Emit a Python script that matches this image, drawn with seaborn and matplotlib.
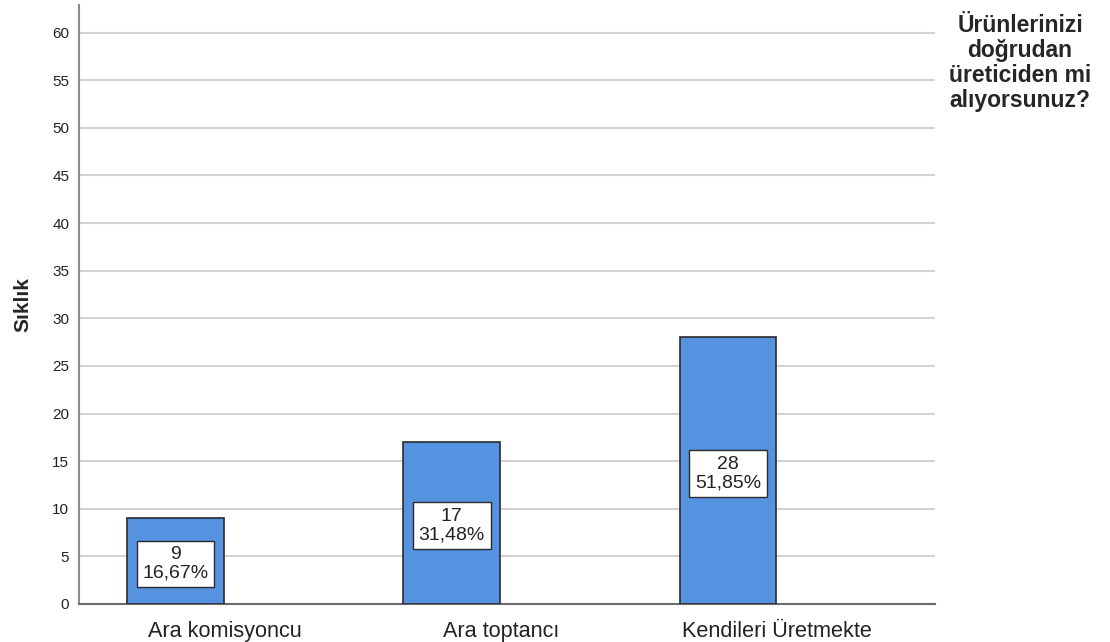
import pandas as pd
import seaborn as sns
import matplotlib.pyplot as plt
from matplotlib.transforms import ScaledTranslation

# data
categories = ['Ara komisyoncu', 'Ara toptancı', 'Kendileri Üretmekte']
counts = [9, 17, 28]
percents = ['16,67%', '31,48%', '51,85%']
yticks = list(range(0, 61, 5))

df = pd.DataFrame({'cat': categories, 'n': counts})

sns.set_style('white')
plt.rcParams['font.family'] = ['Liberation Sans', 'DejaVu Sans']

fig = plt.figure(figsize=(11.1, 6.42), dpi=100)
ax = fig.add_axes([0.0712, 0.0592, 0.7712, 0.933])

sns.barplot(data=df, x='cat', y='n', color='#5592DF', saturation=1,
            edgecolor='#2b2b2b', linewidth=1.2, width=0.35, ax=ax, zorder=3)

for i, (n, p) in enumerate(zip(counts, percents)):
    ax.text(i, n / 2 - 0.3, f'{n}\n{p}', ha='center', va='center', fontsize=14,
            linespacing=1.1, zorder=5, color='#222222',
            bbox=dict(boxstyle='square,pad=0.3', fc='white', ec='#2b2b2b', lw=1))

ax.set_xlim(-0.349, 2.749)
ax.set_ylim(0, 62.9)
ax.set_yticks(yticks)
ax.yaxis.grid(True, color='#d2d2d2', lw=1.5, zorder=0)
ax.tick_params(axis='y', length=0, labelsize=11, pad=7, colors='#222222')
ax.tick_params(axis='x', length=0, labelsize=15.6, pad=12, colors='#222222')
# SPSS puts the category labels a bit right of the bar centres
shift = ScaledTranslation(0.49, 0, fig.dpi_scale_trans)
for lab in ax.get_xticklabels():
    lab.set_transform(lab.get_transform() + shift)
ax.set_xlabel('')
ax.set_ylabel('Sıklık', fontsize=15, fontweight='bold', labelpad=14)

for s in ['top', 'right']:
    ax.spines[s].set_visible(False)
ax.spines['left'].set_color('#8a8a8a')
ax.spines['left'].set_linewidth(1.5)
ax.spines['bottom'].set_color('#6a6a6a')
ax.spines['bottom'].set_linewidth(1.5)

fig.text(0.919, 0.978, 'Ürünlerinizi\ndoğrudan\nüreticiden mi\nalıyorsunuz?',
         ha='center', va='top', fontsize=16.5, fontweight='bold', linespacing=1.1)

fig.savefig('out.png', dpi=100)
plt.close()
